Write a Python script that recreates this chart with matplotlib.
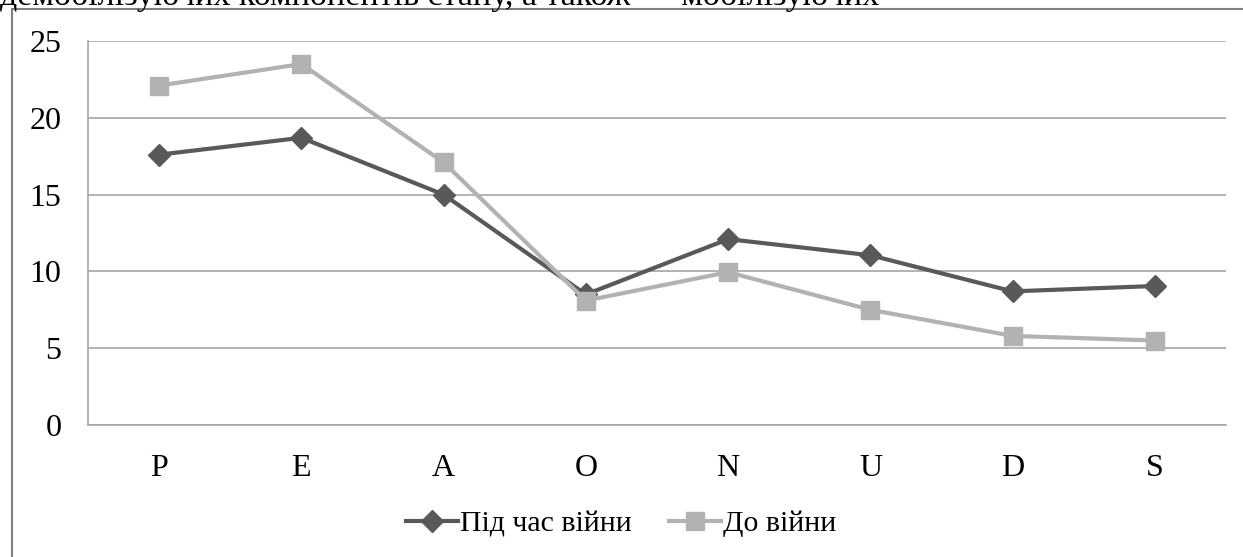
import matplotlib
matplotlib.use("Agg")
import matplotlib.pyplot as plt
from matplotlib.lines import Line2D

categories = ["P", "E", "A", "O", "N", "U", "D", "S"]
during_war = [17.6, 18.7, 15.0, 8.5, 12.1, 11.05, 8.7, 9.05]
before_war = [22.1, 23.5, 17.1, 8.1, 9.95, 7.5, 5.8, 5.5]
series_labels = ["Під час війни", "До війни"]
yticks = [0, 5, 10, 15, 20, 25]

plt.rcParams['font.family'] = ['Liberation Serif', 'DejaVu Serif']

W, H = 1243, 557
fig = plt.figure(figsize=(W/100, H/100), dpi=100)
fig.patch.set_facecolor('white')

# clipped document text line at top (cut off in the reference as well)
fig.text(0/W, 1 - 5/H, "демобілізуючих компонентів стану, а також — мобілізуючих",
         fontsize=24.5, va='baseline', ha='left', color='black')

# outer frame
fig.add_artist(Line2D([12/W, 12/W], [0, 1 - 9/H], transform=fig.transFigure, color='#808080', lw=1.5))
fig.add_artist(Line2D([12/W, 1], [1 - 9/H, 1 - 9/H], transform=fig.transFigure, color='#808080', lw=1.5))

left, right = 88/W, 1226/W
top, bottom = 1 - 41/H, 1 - 425/H
ax = fig.add_axes([left, bottom, right - left, top - bottom])

x = list(range(len(categories)))
dark = '#595959'
light = '#b2b2b2'
ax.plot(x, during_war, color=dark, lw=3, marker='D', markersize=11, label=series_labels[0], zorder=3)
ax.plot(x, before_war, color=light, lw=3, marker='s', markersize=13, label=series_labels[1], zorder=4)

ax.set_xlim(-0.5, len(categories) - 0.5)
ax.set_ylim(0, 25)
ax.set_yticks(yticks)
ax.set_xticks(x)
ax.set_xticklabels(categories)
ax.yaxis.grid(True, color='#a6a6a6', lw=1.2)
ax.set_axisbelow(True)
for s in ['top', 'right']:
    ax.spines[s].set_visible(False)
for s in ['left', 'bottom']:
    ax.spines[s].set_color('#a6a6a6')
    ax.spines[s].set_linewidth(1.2)
ax.tick_params(axis='both', length=0, labelsize=23, colors='black')
ax.tick_params(axis='y', pad=19)
ax.tick_params(axis='x', pad=21)

leg = fig.legend(loc='center', bbox_to_anchor=(621/W, 1 - 524/H), ncol=2, frameon=False,
                 fontsize=21.5, handlelength=1.75, columnspacing=1.25, handletextpad=0.05)

fig.savefig('out.png', dpi=100)
